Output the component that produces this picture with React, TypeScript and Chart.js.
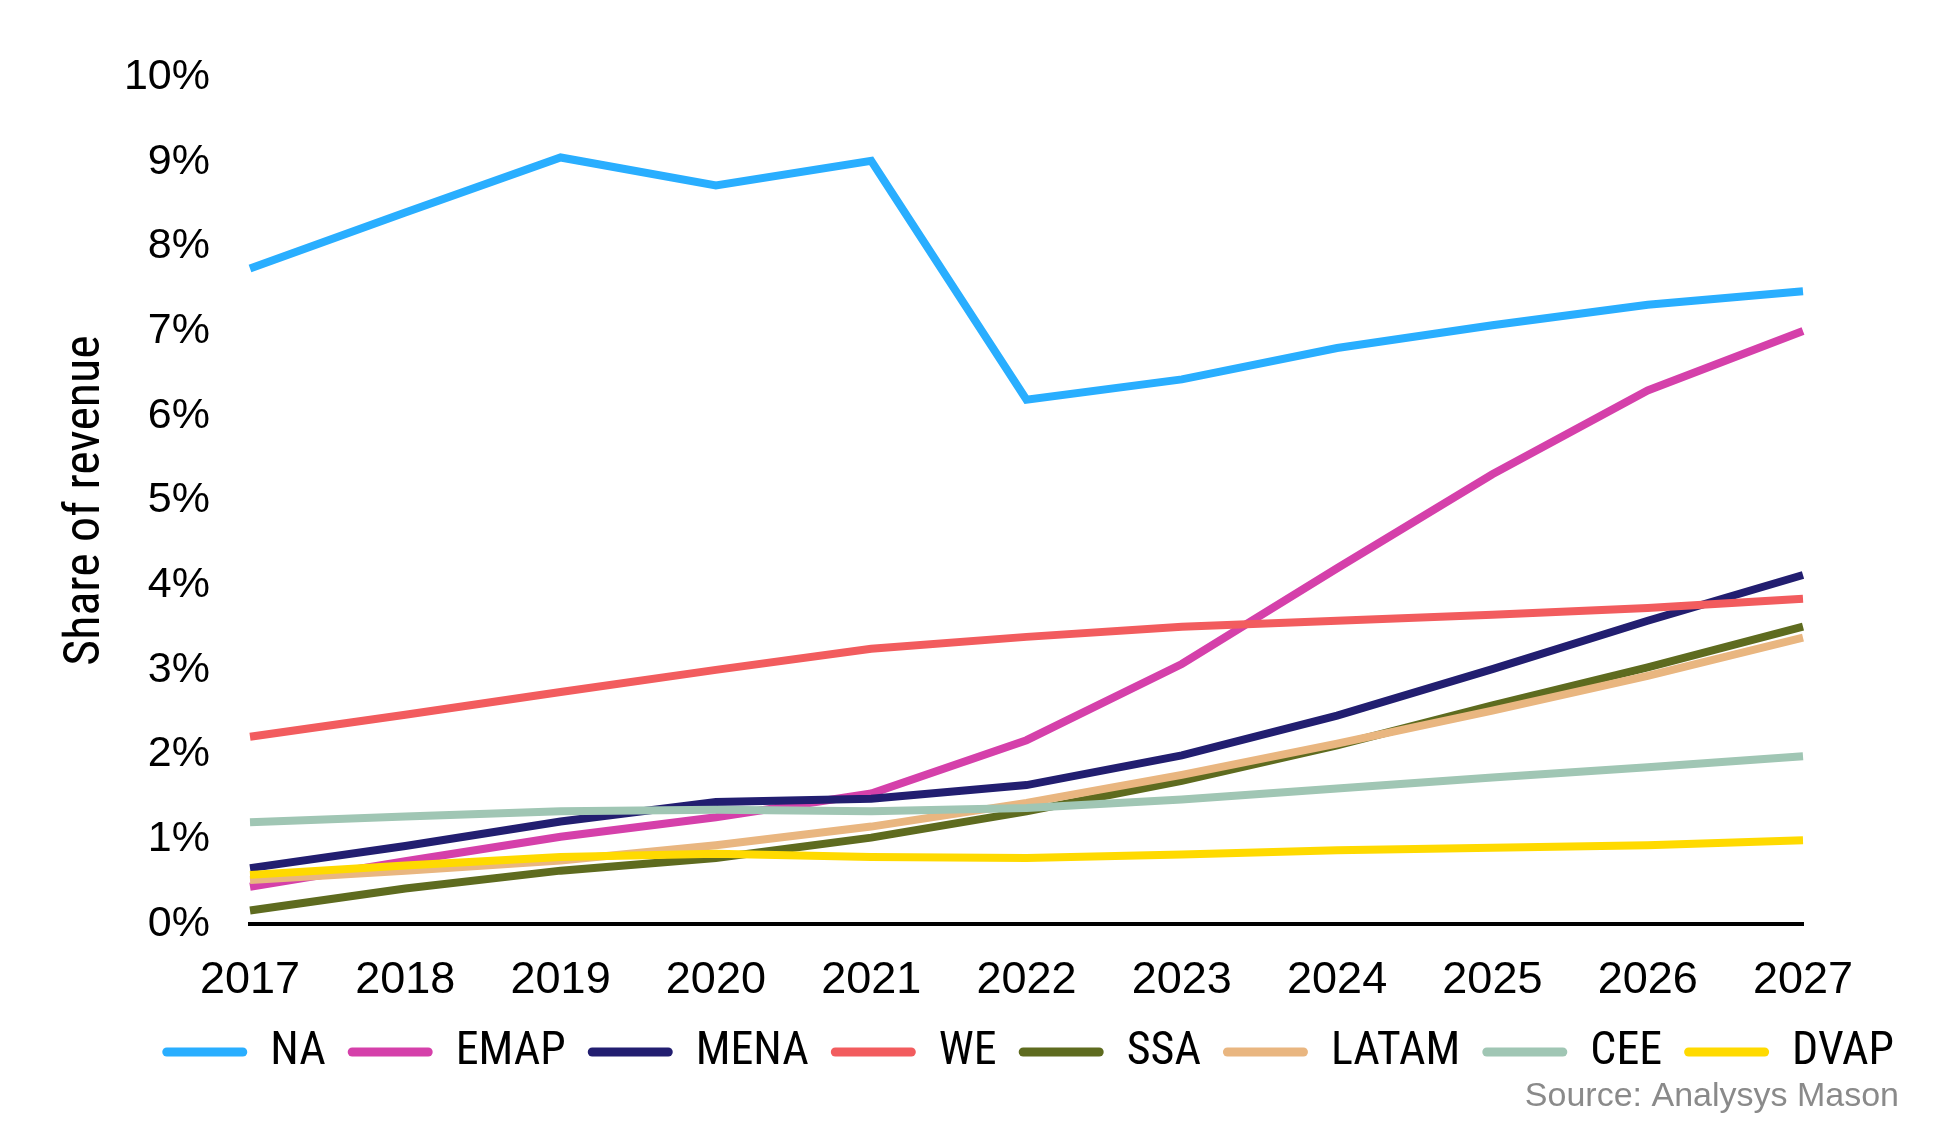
import { useEffect, useRef } from 'react';
import { Chart, registerables } from 'chart.js';

Chart.register(...registerables);

const years = ['2017', '2018', '2019', '2020', '2021', '2022', '2023', '2024', '2025', '2026', '2027'];
const seriesNames = ['NA', 'EMAP', 'MENA', 'WE', 'SSA', 'LATAM', 'CEE', 'DVAP'];
const seriesColors = ['#29AEFF', '#D540AA', '#221E70', '#F25C5E', '#5E6B1F', '#E9B680', '#A0C6B4', '#FFDA00'];

const naValues = [7.74, 8.40, 9.05, 8.72, 9.01, 6.19, 6.43, 6.80, 7.07, 7.31, 7.47];
const emapValues = [0.44, 0.74, 1.03, 1.26, 1.54, 2.17, 3.07, 4.20, 5.31, 6.30, 7.00];
const menaValues = [0.66, 0.92, 1.21, 1.44, 1.48, 1.64, 1.99, 2.46, 3.01, 3.58, 4.12];
const weValues = [2.21, 2.47, 2.74, 3.00, 3.25, 3.39, 3.51, 3.58, 3.65, 3.73, 3.84];
const ssaValues = [0.16, 0.42, 0.63, 0.78, 1.02, 1.33, 1.69, 2.11, 2.58, 3.03, 3.51];
const latamValues = [0.52, 0.63, 0.75, 0.93, 1.15, 1.43, 1.76, 2.13, 2.52, 2.93, 3.38];
const ceeValues = [1.20, 1.27, 1.33, 1.35, 1.33, 1.37, 1.47, 1.60, 1.73, 1.85, 1.98];
const dvapValues = [0.58, 0.69, 0.79, 0.83, 0.79, 0.78, 0.82, 0.87, 0.90, 0.93, 0.99];

const yTicks = [0, 1, 2, 3, 4, 5, 6, 7, 8, 9, 10];
const yTitle = 'Share of revenue';
const sourceText = 'Source: Analysys Mason';

const allValues = [naValues, emapValues, menaValues, weValues, ssaValues, latamValues, ceeValues, dvapValues];

const condensed = "'Liberation Sans Narrow', 'Roboto Condensed', 'DejaVu Sans Condensed', 'Arial Narrow', sans-serif";
const regular = "'Liberation Sans', Arial, sans-serif";

const sourcePlugin = {
  id: 'sourceText',
  afterDraw(chart: any) {
    const { ctx } = chart;
    ctx.save();
    ctx.font = `34px ${regular}`;
    ctx.fillStyle = '#8a8a8a';
    ctx.textAlign = 'right';
    ctx.textBaseline = 'alphabetic';
    ctx.fillText(sourceText, chart.width - 35, chart.height - 17);
    ctx.restore();
  },
};

export default function App() {
  const canvasRef = useRef<HTMLCanvasElement | null>(null);

  useEffect(() => {
    if (!canvasRef.current) return;
    const datasets = seriesNames.map((name, i) => ({
      label: name,
      data: allValues[i],
      borderColor: seriesColors[i],
      backgroundColor: seriesColors[i],
      borderWidth: 8,
      pointRadius: 0,
      pointHoverRadius: 0,
      tension: 0,
      fill: false,
      borderJoinStyle: 'miter' as const,
      borderCapStyle: 'butt' as const,
      order: seriesNames.length - 1 - i,
    }));

    const chart = new Chart(canvasRef.current, {
      type: 'line',
      data: { labels: years, datasets },
      plugins: [sourcePlugin],
      options: {
        animation: false,
        responsive: true,
        maintainAspectRatio: false,
        layout: { padding: { left: 0, right: 18, top: 77, bottom: 38 } },
        plugins: {
          tooltip: { enabled: false },
          legend: {
            display: true,
            position: 'bottom',
            align: 'end',
            labels: {
              boxWidth: 85,
              boxHeight: 9,
              useBorderRadius: true,
              borderRadius: 4.5,
              padding: 22,
              color: '#000',
              font: { family: condensed, size: 46 },
              sort: (a: any, b: any) => a.datasetIndex - b.datasetIndex,
              generateLabels: (c: any) => {
                const items = Chart.defaults.plugins.legend.labels.generateLabels(c);
                return items.map((it: any) => ({
                  ...it,
                  fillStyle: seriesColors[it.datasetIndex],
                  strokeStyle: seriesColors[it.datasetIndex],
                  lineWidth: 0,
                  borderRadius: 4.5,
                }));
              },
            },
          },
        },
        scales: {
          x: {
            type: 'category',
            offset: false,
            grid: { display: false, drawTicks: false },
            border: { display: true, color: '#000', width: 4 },
            ticks: {
              color: '#000',
              padding: 34,
              maxRotation: 0,
              autoSkip: false,
              font: { family: regular, size: 45, lineHeight: 1 },
            },
            afterFit: (s: any) => {
              s.height = 83;
            },
          },
          y: {
            min: 0,
            max: 10,
            afterBuildTicks: (s: any) => {
              s.ticks = yTicks.map((v) => ({ value: v }));
            },
            grid: { display: false, drawTicks: false },
            border: { display: false },
            ticks: {
              color: '#000',
              padding: 40,
              font: { family: regular, size: 43 },
              callback: (v: any) => `${v}%`,
            },
            title: {
              display: true,
              text: yTitle,
              color: '#000',
              font: { family: condensed, size: 50 },
              padding: { top: 56, bottom: 0 },
            },
            afterFit: (s: any) => {
              s.width = 250;
            },
          },
          y2: {
            position: 'right',
            min: 0,
            max: 10,
            grid: { display: false, drawTicks: false },
            border: { display: false },
            ticks: { display: false },
            afterFit: (s: any) => {
              s.width = 113;
            },
          },
        },
      },
    });
    return () => chart.destroy();
  }, []);

  return (
    <div style={{ position: 'fixed', left: 0, top: 0, width: 1934, height: 1123, background: '#fff' }}>
      <canvas ref={canvasRef} />
    </div>
  );
}
